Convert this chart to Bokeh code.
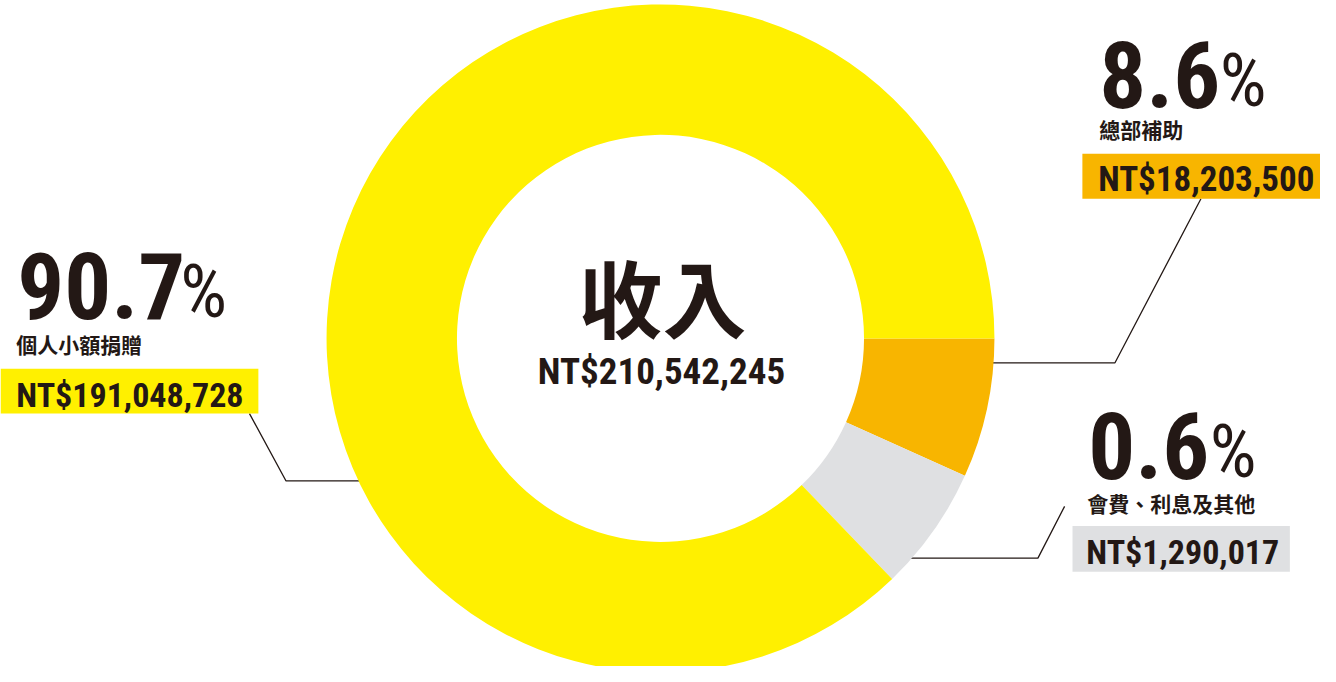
from bokeh.plotting import figure
from bokeh.models import Range1d
from bokeh.core.properties import value
from bokeh.embed import file_html
from bokeh.resources import INLINE
import math

# ---- data ----
categories = ["個人小額捐贈", "總部補助", "會費、利息及其他"]
amounts = [191048728, 18203500, 1290017]
# share of the ring each slice occupies as drawn in the picture (percent)
drawn_share = [87.2, 6.75, 6.05]
colors = ["#FFF000", "#F8B500", "#DFE0E2"]
center_title = "收入"

total = sum(amounts)
pcts = ["%.1f" % (a / total * 100) for a in amounts]
amount_labels = ["NT$" + format(a, ",") for a in amounts]
total_label = "NT$" + format(total, ",")

INK = "#231815"
NUM_FONT = value("Roboto Condensed, DejaVu Sans Condensed, sans-serif")
CJK_FONT = value("Noto Sans CJK TC")

H = 682  # reference y (top-down) -> data y
def Y(v):
    return H - v

DESC = 0.34  # baseline correction (fraction of font size)

p = figure(width=1320, height=666, output_backend="svg", toolbar_location=None,
           x_range=Range1d(0, 1336), y_range=Range1d(0, 682), min_border=0)
p.axis.visible = False
p.grid.visible = False
p.outline_line_color = None
p.background_fill_color = "white"
p.border_fill_color = "white"

cx, cy = 668, Y(346)
r_in, r_out = 206, 338

# leader lines (drawn first, ring covers their ends)
leaders = {
    0: ([367, 289, 252], [492, 492, 423]),
    1: ([1000, 1128, 1215], [371, 371, 203]),
    2: ([912, 1050, 1077], [571, 571, 518]),
}
for i, (xs, ys) in leaders.items():
    p.line(xs, [Y(v) for v in ys], line_color=INK, line_width=1.3)

# ring: orange then grey clockwise from 3 o'clock, yellow the rest
order = [1, 2, 0]
ang = 0.0
starts, ends, cols = [], [], []
for i in order:
    span = drawn_share[i] / sum(drawn_share) * 2 * math.pi
    starts.append(ang)
    ends.append(ang - span)
    cols.append(colors[i])
    ang -= span
p.annular_wedge(x=cx, y=cy, inner_radius=r_in, outer_radius=r_out,
                start_angle=starts, end_angle=ends, direction="clock",
                fill_color=cols, line_color=None)

# label boxes
boxes = {
    0: (0, 261, 377, 423),
    1: (1095, 1336, 157, 203),
    2: (1085, 1305, 538, 585),
}
for i, (l, r, t, b) in boxes.items():
    p.quad(left=l, right=r, top=Y(t), bottom=Y(b), fill_color=colors[i], line_color=None)

def put(x, base, txt, font, size, style="bold", align="left"):
    p.text(x=[x], y=[Y(base - DESC * size)], text=[txt], text_font=font, text_font_style=style,
           text_font_size="%dpx" % size, text_color=INK, text_align=align,
           text_baseline="alphabetic")

# label texts
layout = {
    # pct x, pct baseline, % x, cat x, cat mid, amount x, amount baseline, amount size
    0: (17, 323, 182, 16, 352, 16, 416, 34),
    1: (1112, 107, 1234, 1112, 132, 1111, 195, 35),
    2: (1101, 487, 1224, 1100, 515, 1099, 576, 34),
}
for i, (px, pb, qx, kx, km, ax, ab, asz) in layout.items():
    put(px, pb, pcts[i], NUM_FONT, 93)
    put(qx, pb, "%", NUM_FONT, 74, style="normal")
    p.text(x=[kx], y=[Y(km)], text=[categories[i]], text_font=CJK_FONT, text_font_style="bold",
           text_font_size="21px", text_color=INK, text_align="left", text_baseline="middle")
    put(ax, ab, amount_labels[i], NUM_FONT, asz)

# center
p.text(x=[cx + 2], y=[Y(302)], text=[center_title], text_font=CJK_FONT, text_font_style="bold",
       text_font_size="84px", text_color=INK, text_align="center", text_baseline="middle")
put(cx + 1, 393, total_label, NUM_FONT, 37, align="center")

open("out.html", "w").write(file_html(p, INLINE))
